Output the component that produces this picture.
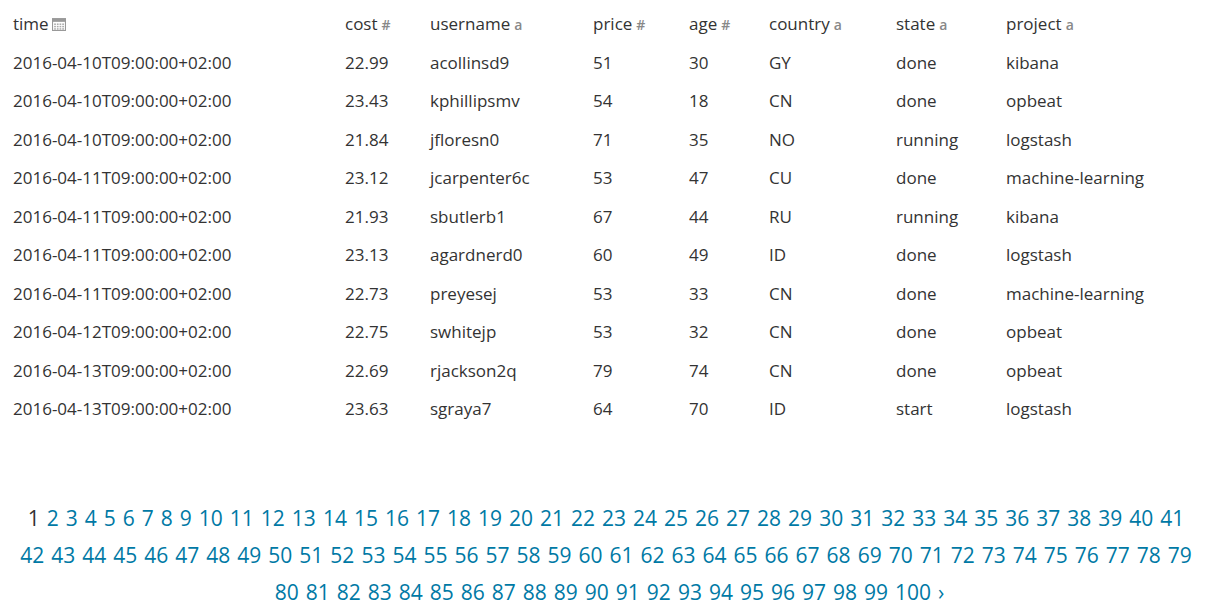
import React from 'react';

const columns = ['time', 'cost', 'username', 'price', 'age', 'country', 'state', 'project'];
const columnIcons = ['📅', '#', 'a', '#', '#', 'a', 'a', 'a'];
const columnX = [5, 337, 422, 585, 681, 761, 888, 998];

const times = [
  '2016-04-10T09:00:00+02:00', '2016-04-10T09:00:00+02:00', '2016-04-10T09:00:00+02:00',
  '2016-04-11T09:00:00+02:00', '2016-04-11T09:00:00+02:00', '2016-04-11T09:00:00+02:00',
  '2016-04-11T09:00:00+02:00', '2016-04-12T09:00:00+02:00', '2016-04-13T09:00:00+02:00',
  '2016-04-13T09:00:00+02:00',
];
const costs = ['22.99', '23.43', '21.84', '23.12', '21.93', '23.13', '22.73', '22.75', '22.69', '23.63'];
const usernames = ['acollinsd9', 'kphillipsmv', 'jfloresn0', 'jcarpenter6c', 'sbutlerb1', 'agardnerd0', 'preyesej', 'swhitejp', 'rjackson2q', 'sgraya7'];
const prices = [51, 54, 71, 53, 67, 60, 53, 53, 79, 64];
const ages = [30, 18, 35, 47, 44, 49, 33, 32, 74, 70];
const countries = ['GY', 'CN', 'NO', 'CU', 'RU', 'ID', 'CN', 'CN', 'CN', 'ID'];
const states = ['done', 'done', 'running', 'done', 'running', 'done', 'done', 'done', 'done', 'start'];
const projects = ['kibana', 'opbeat', 'logstash', 'machine-learning', 'kibana', 'logstash', 'machine-learning', 'opbeat', 'opbeat', 'logstash'];

const pageLines = [
  [1, 41],
  [42, 79],
  [80, 100],
];

const TEXT = '#333';
const LINK = '#0079a5';

function CalendarIcon() {
  return (
    <svg width="14" height="14" viewBox="0 0 13 13" style={{ marginLeft: 3, verticalAlign: -1 }}>
      <rect x="0.5" y="1.5" width="12" height="11" fill="none" stroke="#999" />
      <rect x="0.5" y="1.5" width="12" height="3" fill="#999" />
      {[0, 1, 2, 3].map((c) =>
        [0, 1, 2].map((r) => (
          <rect key={`${c}-${r}`} x={2 + c * 2.5} y={6 + r * 2.2} width="1.6" height="1.4" fill="#aaa" />
        )),
      )}
    </svg>
  );
}

export default function App() {
  const rows = times.map((t, i) => [t, costs[i], usernames[i], prices[i], ages[i], countries[i], states[i], projects[i]]);
  const rowTop = (i: number) => 5 + i * 38.5;
  return (
    <div style={{ position: 'relative', width: 1203, height: 596, fontFamily: '"Open Sans", sans-serif', color: TEXT, fontSize: 17 }}>
      {columns.map((c, j) => (
        <div key={c} style={{ position: 'absolute', left: columnX[j], top: rowTop(0), lineHeight: '22px' }}>
          {c}
          {j === 0 ? (
            <CalendarIcon />
          ) : (
            <span style={{ fontSize: 14, color: '#888', fontWeight: 600, marginLeft: 4 }}>{columnIcons[j]}</span>
          )}
        </div>
      ))}
      {rows.map((row, i) =>
        row.map((v, j) => (
          <div key={`${i}-${j}`} style={{ position: 'absolute', left: columnX[j], top: rowTop(i + 1), lineHeight: '22px' }}>
            {v}
          </div>
        )),
      )}
      {pageLines.map(([a, b], li) => (
        <div
          key={li}
          style={{ position: 'absolute', left: 0, width: 1203, top: 496 + li * 37, textAlign: 'center', fontSize: 21, lineHeight: '28px', color: LINK, whiteSpace: 'nowrap' }}
        >
          {Array.from({ length: b - a + 1 }, (_, k) => a + k).map((n) => (
            <span key={n} style={{ marginRight: 7, color: n === 1 ? TEXT : LINK }}>{n}</span>
          ))}
          {li === 2 && <span>›</span>}
        </div>
      ))}
    </div>
  );
}
